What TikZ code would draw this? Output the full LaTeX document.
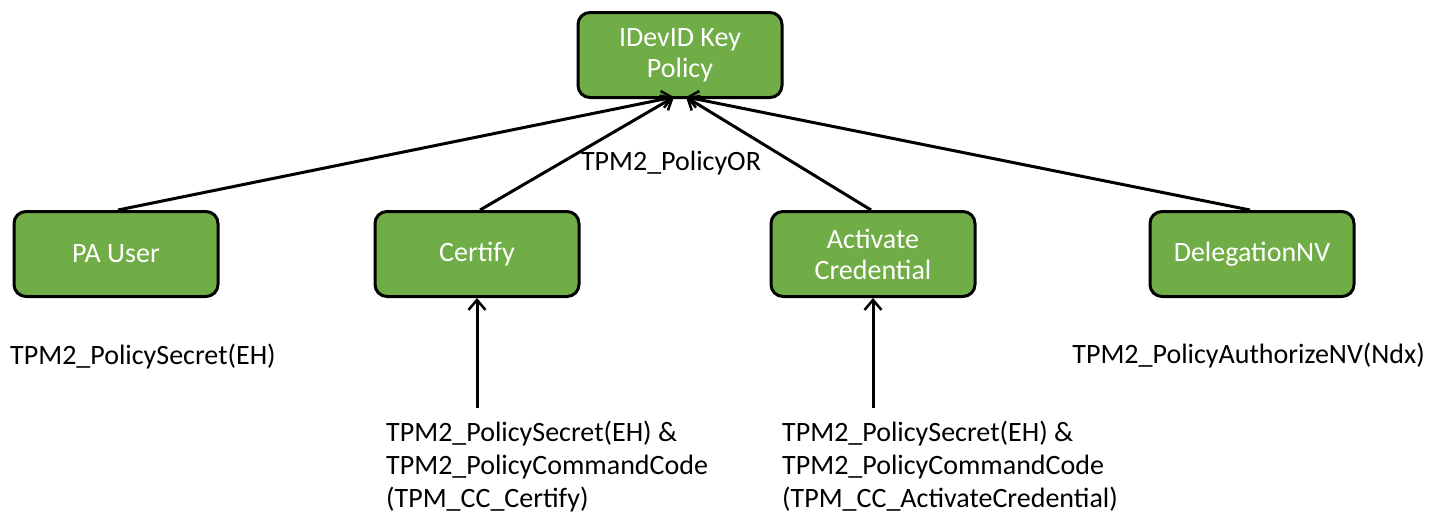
\documentclass[tikz,border=0pt]{standalone}
\usepackage{fontspec}
\setmainfont{Carlito}
\usetikzlibrary{arrows.meta}
\definecolor{boxgreen}{RGB}{112,173,71}
\tikzset{
  box/.style={draw=black, line width=3pt, fill=boxgreen, rounded corners=12pt,
    minimum width=204pt, minimum height=85pt, text=white, align=center,
    font=\fontsize{28}{31}\selectfont, inner sep=0pt},
  lbl/.style={text=black, align=left, font=\fontsize{28}{33}\selectfont, inner sep=0pt},
  conn/.style={line width=3pt, -{Straight Barb[length=10pt,width=17pt,line width=2.5pt]}}
}
\begin{document}
\begin{tikzpicture}[x=1pt,y=-1pt]
\useasboundingbox (0,0) rectangle (1440,512);
\fill[white] (0,0) rectangle (1440,512);
\node[box] (top) at (680,55) {IDevID Key\\Policy};
\node[box] (pa) at (116,254) {PA User};
\node[box] (cert) at (477,254) {Certify};
\node[box] (act) at (873,254) {Activate\\Credential};
\node[box] (del) at (1252,254) {DelegationNV};
\coordinate (tl) at (674,97);
\coordinate (tr) at (686,97);
\draw[conn] (pa.north) ++(2,0) -- (tl);
\draw[conn] (cert.north) ++(3,0) -- (tl);
\draw[conn] (act.north) ++(-2,0) -- (tr);
\draw[conn] (del.north) ++(-2,0) -- (tr);
\node[lbl] (or) at (671,163) {TPM2\_PolicyOR};
\node[lbl, anchor=west] (pas) at (10,357) {TPM2\_PolicySecret(EH)};
\node[lbl, anchor=east] (dls) at (1425,356) {TPM2\_PolicyAuthorizeNV(Ndx)};
\node[lbl, anchor=north west] (cts) at (386,421) {TPM2\_PolicySecret(EH) \&\\TPM2\_PolicyCommandCode\\(TPM\_CC\_Certify)};
\node[lbl, anchor=north west] (acs) at (782,421) {TPM2\_PolicySecret(EH) \&\\TPM2\_PolicyCommandCode\\(TPM\_CC\_ActivateCredential)};
\coordinate (cb) at (477,408);
\coordinate (ab) at (873,408);
\draw[conn] (cb) -- (cert.south);
\draw[conn] (ab) -- (act.south);
\end{tikzpicture}
\end{document}
